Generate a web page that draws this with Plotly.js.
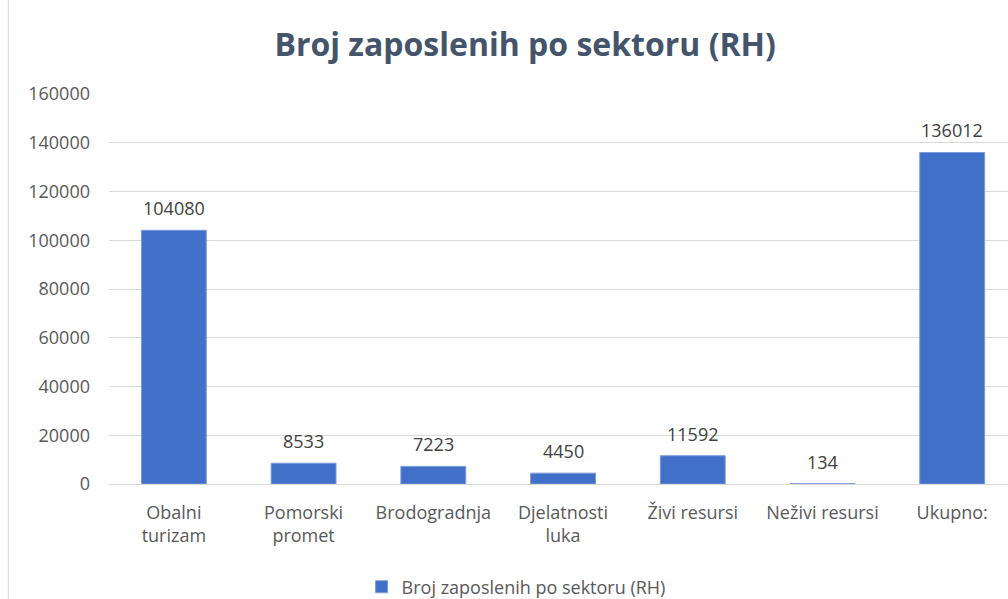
<!DOCTYPE html>
<html>
<head>
<meta charset="utf-8">
<script src="https://cdn.plot.ly/plotly-3.0.1.min.js"></script>
<style>html,body{margin:0;padding:0;background:#fff;}#chart{width:1008px;height:599px;}</style>
</head>
<body>
<div id="chart"></div>
<script>
const categories = ["Obalni<br>turizam", "Pomorski<br>promet", "Brodogradnja", "Djelatnosti<br>luka", "Živi resursi", "Neživi resursi", "Ukupno:"];
const values = [104080, 8533, 7223, 4450, 11592, 134, 136012];
const seriesName = "Broj zaposlenih po sektoru (RH)";
const yTicks = [0, 20000, 40000, 60000, 80000, 100000, 120000, 140000, 160000];

const font = "Open Sans, Noto Sans, sans-serif";
const trace = {
  type: "bar",
  x: categories,
  y: values,
  name: seriesName,
  marker: {color: "#4170C8", line: {color: "#7C9BDB", width: 1}},
  showlegend: true,
  hoverinfo: "x+y"
};
const valueLabels = categories.map((c, i) => ({
  x: c, y: values[i], xref: "x", yref: "y", text: String(values[i]),
  showarrow: false, yanchor: "bottom", yshift: 8,
  font: {family: font, size: 18, color: "#404040"}
}));
const layout = {
  width: 1008, height: 599,
  margin: {l: 109, r: 0, t: 94, b: 115},
  paper_bgcolor: "#fff", plot_bgcolor: "#fff",
  title: {text: "Broj zaposlenih po sektoru (RH)", font: {family: font, size: 32, color: "#44546A", weight: 700},
          x: 0.521, xanchor: "center", xref: "container", y: 0.925, yanchor: "middle", yref: "container"},
  bargap: 0.5,
  xaxis: {type: "category", range: [-0.5, 6.43], showgrid: false, zeroline: false, showline: false,
          ticks: "", ticklabelstandoff: 16, tickfont: {family: font, size: 18, color: "#595959"}, automargin: false},
  yaxis: {range: [0, 160000], tickvals: yTicks, ticktext: yTicks.map(String), showgrid: true, gridcolor: "#D9D9D9", gridwidth: 1,
          zeroline: true, zerolinecolor: "#D9D9D9", showline: false, ticks: "", ticklabelstandoff: 18,
          tickfont: {family: font, size: 18, color: "#595959"}, automargin: false},
  showlegend: true,
  legend: {orientation: "h", x: 0.512, xanchor: "center", xref: "container", y: 0.02, yanchor: "middle", yref: "container",
           font: {family: font, size: 18, color: "#595959"}, itemwidth: 30},
  annotations: valueLabels,
  shapes: [{type: "line", xref: "paper", yref: "paper", x0: -0.112, x1: -0.112, y0: -0.3, y1: 1.25,
            line: {color: "#D9D9D9", width: 1}}]
};
Plotly.newPlot("chart", [trace], layout, {displayModeBar: false, staticPlot: true});
</script>
</body>
</html>
